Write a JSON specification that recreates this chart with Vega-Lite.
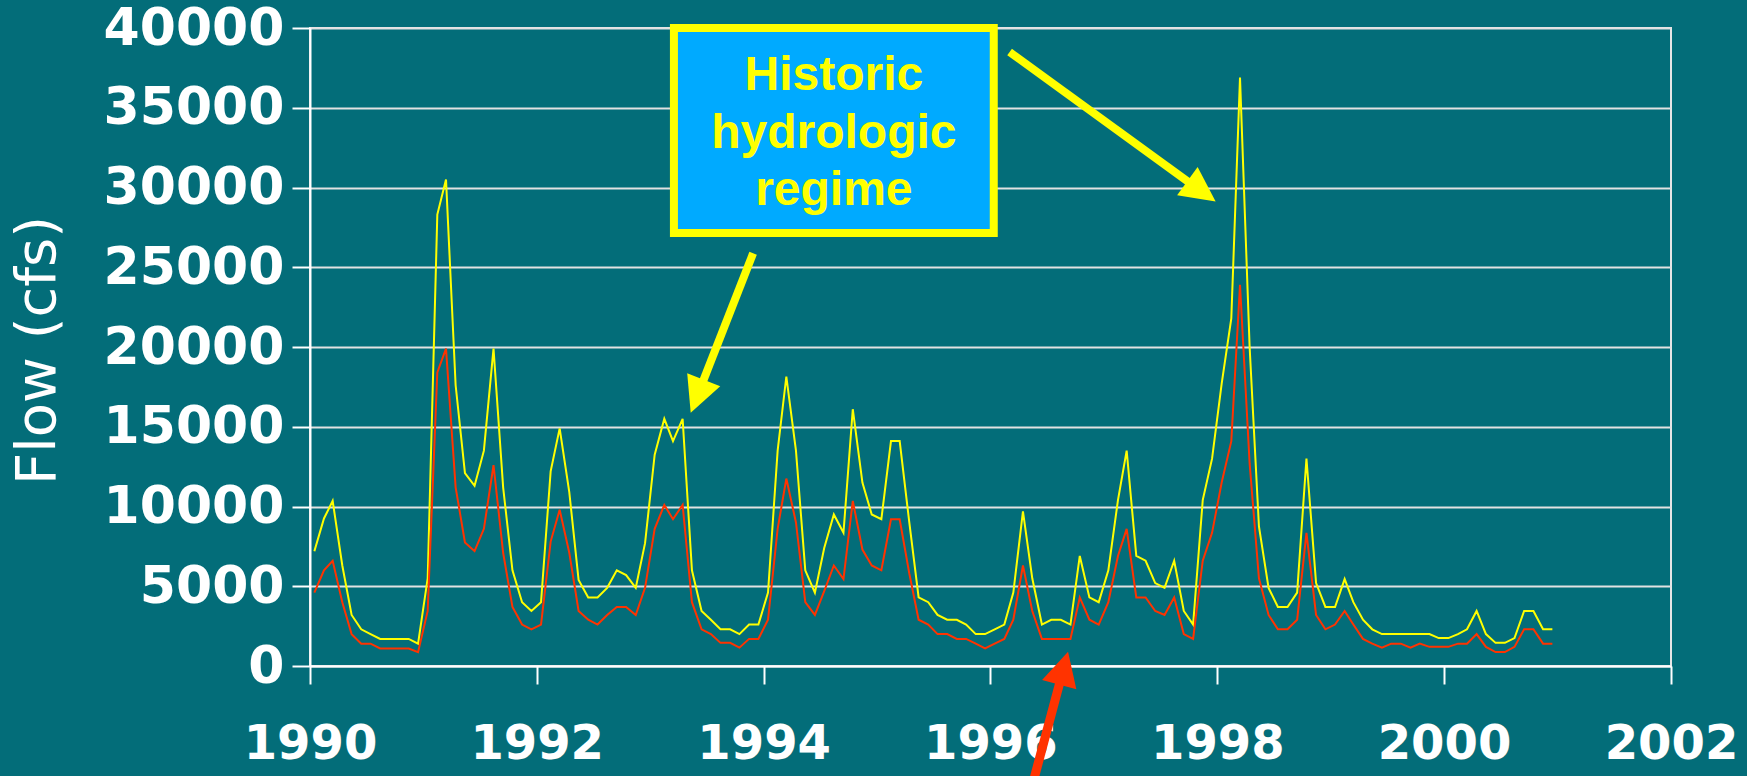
{
  "$schema": "https://vega.github.io/schema/vega-lite/v6.json",
  "width": 1361,
  "height": 638,
  "autosize": {"type": "none"},
  "padding": {"left": 310, "top": 28, "right": 76, "bottom": 110},
  "background": "#036d79",
  "view": {"stroke": "#e6e6e6", "strokeWidth": 2},
  "config": {
    "font": "DejaVu Sans",
    "axis": {
      "labelFont": "DejaVu Sans",
      "labelFontWeight": "bold",
      "labelColor": "#ffffff",
      "labelLimit": 400,
      "domainColor": "#ffffff",
      "domainWidth": 2,
      "tickColor": "#ffffff",
      "tickWidth": 2,
      "tickSize": 18,
      "titleColor": "#ffffff",
      "titleFont": "DejaVu Sans",
      "titleFontWeight": "normal"
    }
  },
  "datasets": {
    "flow": [
      {"d": "1990-01-15", "Historic": 7200, "Current": 4600},
      {"d": "1990-02-15", "Historic": 9250, "Current": 6000},
      {"d": "1990-03-15", "Historic": 10350, "Current": 6600},
      {"d": "1990-04-15", "Historic": 6300, "Current": 4000},
      {"d": "1990-05-15", "Historic": 3200, "Current": 2000},
      {"d": "1990-06-15", "Historic": 2300, "Current": 1400},
      {"d": "1990-07-15", "Historic": 2000, "Current": 1400},
      {"d": "1990-08-15", "Historic": 1700, "Current": 1100},
      {"d": "1990-09-15", "Historic": 1700, "Current": 1100},
      {"d": "1990-10-15", "Historic": 1700, "Current": 1100},
      {"d": "1990-11-15", "Historic": 1700, "Current": 1100},
      {"d": "1990-12-15", "Historic": 1400, "Current": 870},
      {"d": "1991-01-15", "Historic": 5500, "Current": 3450},
      {"d": "1991-02-15", "Historic": 28300, "Current": 18400},
      {"d": "1991-03-15", "Historic": 30500, "Current": 19900},
      {"d": "1991-04-15", "Historic": 17600, "Current": 11200},
      {"d": "1991-05-15", "Historic": 12100, "Current": 7750},
      {"d": "1991-06-15", "Historic": 11300, "Current": 7200},
      {"d": "1991-07-15", "Historic": 13500, "Current": 8600},
      {"d": "1991-08-15", "Historic": 19900, "Current": 12600},
      {"d": "1991-09-15", "Historic": 11200, "Current": 7100},
      {"d": "1991-10-15", "Historic": 6000, "Current": 3700},
      {"d": "1991-11-15", "Historic": 4000, "Current": 2600},
      {"d": "1991-12-15", "Historic": 3450, "Current": 2300},
      {"d": "1992-01-15", "Historic": 4000, "Current": 2600},
      {"d": "1992-02-15", "Historic": 12200, "Current": 7800},
      {"d": "1992-03-15", "Historic": 14900, "Current": 9800},
      {"d": "1992-04-15", "Historic": 10900, "Current": 7100},
      {"d": "1992-05-15", "Historic": 5400, "Current": 3450},
      {"d": "1992-06-15", "Historic": 4300, "Current": 2900},
      {"d": "1992-07-15", "Historic": 4300, "Current": 2600},
      {"d": "1992-08-15", "Historic": 4900, "Current": 3200},
      {"d": "1992-09-15", "Historic": 6000, "Current": 3700},
      {"d": "1992-10-15", "Historic": 5700, "Current": 3700},
      {"d": "1992-11-15", "Historic": 4900, "Current": 3200},
      {"d": "1992-12-15", "Historic": 7700, "Current": 4900},
      {"d": "1993-01-15", "Historic": 13250, "Current": 8600},
      {"d": "1993-02-15", "Historic": 15500, "Current": 10100},
      {"d": "1993-03-15", "Historic": 14100, "Current": 9200},
      {"d": "1993-04-15", "Historic": 15500, "Current": 10100},
      {"d": "1993-05-15", "Historic": 6000, "Current": 4000},
      {"d": "1993-06-15", "Historic": 3450, "Current": 2300},
      {"d": "1993-07-15", "Historic": 2900, "Current": 2000},
      {"d": "1993-08-15", "Historic": 2300, "Current": 1450},
      {"d": "1993-09-15", "Historic": 2300, "Current": 1450},
      {"d": "1993-10-15", "Historic": 2000, "Current": 1150},
      {"d": "1993-11-15", "Historic": 2600, "Current": 1700},
      {"d": "1993-12-15", "Historic": 2600, "Current": 1700},
      {"d": "1994-01-15", "Historic": 4600, "Current": 2900},
      {"d": "1994-02-15", "Historic": 13500, "Current": 8600},
      {"d": "1994-03-15", "Historic": 18150, "Current": 11750},
      {"d": "1994-04-15", "Historic": 13500, "Current": 9000},
      {"d": "1994-05-15", "Historic": 6000, "Current": 4000},
      {"d": "1994-06-15", "Historic": 4600, "Current": 3200},
      {"d": "1994-07-15", "Historic": 7400, "Current": 4700},
      {"d": "1994-08-15", "Historic": 9500, "Current": 6300},
      {"d": "1994-09-15", "Historic": 8350, "Current": 5450},
      {"d": "1994-10-15", "Historic": 16100, "Current": 10350},
      {"d": "1994-11-15", "Historic": 11500, "Current": 7300},
      {"d": "1994-12-15", "Historic": 9500, "Current": 6300},
      {"d": "1995-01-15", "Historic": 9200, "Current": 6000},
      {"d": "1995-02-15", "Historic": 14100, "Current": 9200},
      {"d": "1995-03-15", "Historic": 14100, "Current": 9200},
      {"d": "1995-04-15", "Historic": 9000, "Current": 5800},
      {"d": "1995-05-15", "Historic": 4300, "Current": 2900},
      {"d": "1995-06-15", "Historic": 4000, "Current": 2600},
      {"d": "1995-07-15", "Historic": 3200, "Current": 2000},
      {"d": "1995-08-15", "Historic": 2900, "Current": 2000},
      {"d": "1995-09-15", "Historic": 2900, "Current": 1700},
      {"d": "1995-10-15", "Historic": 2600, "Current": 1700},
      {"d": "1995-11-15", "Historic": 2000, "Current": 1400},
      {"d": "1995-12-15", "Historic": 2000, "Current": 1100},
      {"d": "1996-01-15", "Historic": 2300, "Current": 1400},
      {"d": "1996-02-15", "Historic": 2600, "Current": 1700},
      {"d": "1996-03-15", "Historic": 4600, "Current": 2900},
      {"d": "1996-04-15", "Historic": 9700, "Current": 6300},
      {"d": "1996-05-15", "Historic": 5500, "Current": 3450},
      {"d": "1996-06-15", "Historic": 2600, "Current": 1700},
      {"d": "1996-07-15", "Historic": 2900, "Current": 1700},
      {"d": "1996-08-15", "Historic": 2900, "Current": 1700},
      {"d": "1996-09-15", "Historic": 2600, "Current": 1700},
      {"d": "1996-10-15", "Historic": 6900, "Current": 4300},
      {"d": "1996-11-15", "Historic": 4300, "Current": 2900},
      {"d": "1996-12-15", "Historic": 4000, "Current": 2600},
      {"d": "1997-01-15", "Historic": 6000, "Current": 4000},
      {"d": "1997-02-15", "Historic": 10400, "Current": 6900},
      {"d": "1997-03-15", "Historic": 13500, "Current": 8600},
      {"d": "1997-04-15", "Historic": 6900, "Current": 4300},
      {"d": "1997-05-15", "Historic": 6600, "Current": 4300},
      {"d": "1997-06-15", "Historic": 5200, "Current": 3450},
      {"d": "1997-07-15", "Historic": 4900, "Current": 3200},
      {"d": "1997-08-15", "Historic": 6600, "Current": 4300},
      {"d": "1997-09-15", "Historic": 3450, "Current": 2000},
      {"d": "1997-10-15", "Historic": 2600, "Current": 1700},
      {"d": "1997-11-15", "Historic": 10400, "Current": 6600},
      {"d": "1997-12-15", "Historic": 13000, "Current": 8350},
      {"d": "1998-01-15", "Historic": 17700, "Current": 11500},
      {"d": "1998-02-15", "Historic": 21800, "Current": 14100},
      {"d": "1998-03-15", "Historic": 36900, "Current": 23900},
      {"d": "1998-04-15", "Historic": 20000, "Current": 12700},
      {"d": "1998-05-15", "Historic": 8750, "Current": 5500},
      {"d": "1998-06-15", "Historic": 4900, "Current": 3200},
      {"d": "1998-07-15", "Historic": 3700, "Current": 2300},
      {"d": "1998-08-15", "Historic": 3700, "Current": 2300},
      {"d": "1998-09-15", "Historic": 4600, "Current": 2900},
      {"d": "1998-10-15", "Historic": 13000, "Current": 8350},
      {"d": "1998-11-15", "Historic": 5200, "Current": 3200},
      {"d": "1998-12-15", "Historic": 3700, "Current": 2300},
      {"d": "1999-01-15", "Historic": 3700, "Current": 2600},
      {"d": "1999-02-15", "Historic": 5450, "Current": 3450},
      {"d": "1999-03-15", "Historic": 4000, "Current": 2600},
      {"d": "1999-04-15", "Historic": 2900, "Current": 1700},
      {"d": "1999-05-15", "Historic": 2300, "Current": 1400},
      {"d": "1999-06-15", "Historic": 2000, "Current": 1150},
      {"d": "1999-07-15", "Historic": 2000, "Current": 1400},
      {"d": "1999-08-15", "Historic": 2000, "Current": 1400},
      {"d": "1999-09-15", "Historic": 2000, "Current": 1150},
      {"d": "1999-10-15", "Historic": 2000, "Current": 1400},
      {"d": "1999-11-15", "Historic": 2000, "Current": 1200},
      {"d": "1999-12-15", "Historic": 1750, "Current": 1200},
      {"d": "2000-01-15", "Historic": 1750, "Current": 1200},
      {"d": "2000-02-15", "Historic": 2000, "Current": 1400},
      {"d": "2000-03-15", "Historic": 2300, "Current": 1400},
      {"d": "2000-04-15", "Historic": 3450, "Current": 2000},
      {"d": "2000-05-15", "Historic": 2000, "Current": 1200},
      {"d": "2000-06-15", "Historic": 1450, "Current": 870},
      {"d": "2000-07-15", "Historic": 1450, "Current": 870},
      {"d": "2000-08-15", "Historic": 1750, "Current": 1200},
      {"d": "2000-09-15", "Historic": 3450, "Current": 2300},
      {"d": "2000-10-15", "Historic": 3450, "Current": 2300},
      {"d": "2000-11-15", "Historic": 2300, "Current": 1400},
      {"d": "2000-12-15", "Historic": 2300, "Current": 1400}
    ]
  },
  "encoding": {
    "x": {
      "field": "d",
      "type": "temporal",
      "scale": {"type": "utc", "domain": [{"year": 1990, "month": 1, "date": 1, "utc": true}, {"year": 2002, "month": 1, "date": 1, "utc": true}], "nice": false},
      "axis": {"title": null, "format": "%Y", "tickCount": {"interval": "year", "step": 2}, "grid": false, "labelFontSize": 48, "labelPadding": 36, "labelFlush": false, "labelOverlap": false}
    },
    "y": {
      "field": "Historic",
      "type": "quantitative",
      "scale": {"domain": [0, 40000], "nice": false},
      "axis": {"title": "Flow (cfs)", "titleFontSize": 56, "titleX": -273, "titleY": 322, "titleAngle": -90, "titleAlign": "center", "titleBaseline": "middle", "format": "d", "values": [0, 5000, 10000, 15000, 20000, 25000, 30000, 35000, 40000], "grid": true, "gridColor": "#e2e2e2", "gridWidth": 2, "labelFontSize": 52, "labelPadding": 8}
    }
  },
  "layer": [
    {
      "data": {"name": "flow"},
      "mark": {"type": "line", "color": "#FFFF00", "strokeWidth": 2}
    },
    {
      "data": {"name": "flow"},
      "mark": {"type": "line", "color": "#FF3300", "strokeWidth": 2},
      "encoding": {"y": {"field": "Current", "type": "quantitative"}}
    },
    {
      "data": {"values": [{"a": "1993-03-18", "b": "1996-01-12", "top": 40000, "bottom": 27150}]},
      "mark": {"type": "rect", "fill": "#00AAFF", "stroke": "#FFFF00", "strokeWidth": 8},
      "encoding": {
        "x": {"field": "a", "type": "temporal"},
        "x2": {"field": "b"},
        "y": {"field": "top", "type": "quantitative"},
        "y2": {"field": "bottom"}
      }
    },
    {
      "data": {"values": [
        {"d": "1994-08-15", "v": 36113, "t": "Historic"},
        {"d": "1994-08-15", "v": 32477, "t": "hydrologic"},
        {"d": "1994-08-15", "v": 28903, "t": "regime"}
      ]},
      "mark": {"type": "text", "font": "Liberation Sans", "fontWeight": "bold", "fontSize": 48, "color": "#FFFF00", "align": "center", "baseline": "alphabetic"},
      "encoding": {
        "x": {"field": "d", "type": "temporal"},
        "y": {"field": "v", "type": "quantitative"},
        "text": {"field": "t"}
      }
    },
    {
      "data": {"values": [
        {"a": "1993-11-28", "va": 25875, "b": "1993-06-16", "vb": 17661},
        {"a": "1996-03-03", "va": 38495, "b": "1997-10-09", "vb": 30226}
      ]},
      "mark": {"type": "rule", "color": "#FFFF00", "strokeWidth": 8, "strokeCap": "butt"},
      "encoding": {
        "x": {"field": "a", "type": "temporal"},
        "x2": {"field": "b"},
        "y": {"field": "va", "type": "quantitative"},
        "y2": {"field": "vb"}
      }
    },
    {
      "data": {"values": [{"a": "1996-05-11", "va": -7774, "b": "1996-08-14", "vb": -865}]},
      "mark": {"type": "rule", "color": "#FF3300", "strokeWidth": 9, "strokeCap": "butt"},
      "encoding": {
        "x": {"field": "a", "type": "temporal"},
        "x2": {"field": "b"},
        "y": {"field": "va", "type": "quantitative"},
        "y2": {"field": "vb"}
      }
    },
    {
      "data": {"values": [{"d": "1993-06-01", "v": 16915}]},
      "mark": {"type": "point", "shape": "M0,-1L1,1L-1,1Z", "filled": true, "color": "#FFFF00", "opacity": 1, "size": 1260, "angle": 201.5, "strokeWidth": 0},
      "encoding": {
        "x": {"field": "d", "type": "temporal"},
        "y": {"field": "v", "type": "quantitative"}
      }
    },
    {
      "data": {"values": [{"d": "1997-11-11", "v": 29762}]},
      "mark": {"type": "point", "shape": "M0,-1L1,1L-1,1Z", "filled": true, "color": "#FFFF00", "opacity": 1, "size": 1220, "angle": 126, "strokeWidth": 0},
      "encoding": {
        "x": {"field": "d", "type": "temporal"},
        "y": {"field": "v", "type": "quantitative"}
      }
    },
    {
      "data": {"values": [{"d": "1996-08-24", "v": -138}]},
      "mark": {"type": "point", "shape": "M0,-1L1.04,1L-1.04,1Z", "filled": true, "color": "#FF3300", "opacity": 1, "size": 1165, "angle": 15, "strokeWidth": 0},
      "encoding": {
        "x": {"field": "d", "type": "temporal"},
        "y": {"field": "v", "type": "quantitative"}
      }
    }
  ]
}
